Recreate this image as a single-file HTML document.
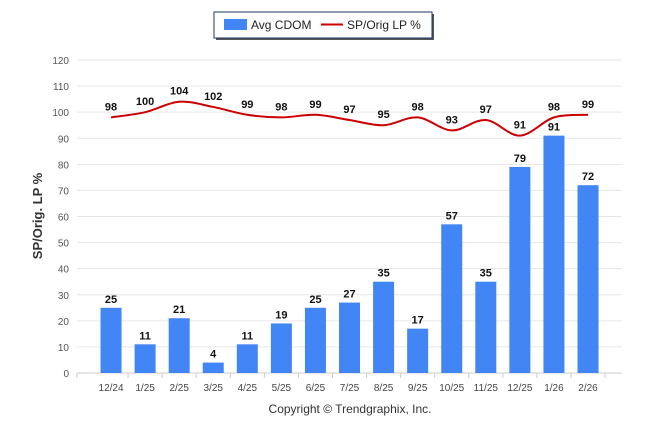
<!DOCTYPE html>
<html><head><meta charset="utf-8"><style>
body{margin:0;background:#fff;font-family:"Liberation Sans",Arial,sans-serif}
svg{display:block}
</style></head><body>
<svg id="c" width="646" height="434" xmlns="http://www.w3.org/2000/svg">
<g>
<rect x="216" y="14" width="218" height="26" fill="#555"/>
<rect x="214" y="12" width="218" height="26" fill="#fff" stroke="#1f3766" stroke-width="1"/>
<rect x="224" y="19" width="23" height="11" fill="#4285f4"/>
<text x="251" y="29" font-size="12" fill="#222">Avg CDOM</text>
<line x1="321" y1="24.5" x2="343" y2="24.5" stroke="#cc0000" stroke-width="2"/>
<text x="347" y="29" font-size="12" fill="#222">SP/Orig LP %</text>
</g>
<text transform="translate(42,216) rotate(-90)" text-anchor="middle" font-size="13" font-weight="bold" fill="#333">SP/Orig. LP %</text>
<text x="350" y="413" text-anchor="middle" font-size="12" fill="#333">Copyright © Trendgraphix, Inc.</text>
<g id="grid"></g><g id="bars"></g><g id="line"></g><g id="labels"></g>
</svg>
<script>
const categories=["12/24","1/25","2/25","3/25","4/25","5/25","6/25","7/25","8/25","9/25","10/25","11/25","12/25","1/26","2/26"];
const cdom=[25,11,21,4,11,19,25,27,35,17,57,35,79,91,72];
const spPct=[98,100,104,102,99,98,99,97,95,98,93,97,91,98,99];
const yTicks=[0,10,20,30,40,50,60,70,80,90,100,110,120];
const NS="http://www.w3.org/2000/svg";
const y0=373,yTop=60,yMax=120,left=77,right=622,catStart=94,step=34.07,bw=21;
const y=v=>y0-(v/yMax)*(y0-yTop);
const x=i=>catStart+step*(i+0.5);
function mk(t,a,p){const e=document.createElementNS(NS,t);for(const k in a)e.setAttribute(k,a[k]);p.appendChild(e);return e;}
const G=document.getElementById('grid'),B=document.getElementById('bars'),L=document.getElementById('line'),T=document.getElementById('labels');
yTicks.forEach(v=>{
 const g=mk('line',{x1:left,x2:right,y1:y(v),y2:y(v),stroke:v===0?'#ccc':'#e6e6e6','stroke-width':1},G);
 
 
 const t=mk('text',{x:69,y:y(v)+4,'text-anchor':'end','font-size':10,fill:'#555'},G);
 t.textContent=v;
 
 
});
for(let i=0;i<=categories.length;i++){
 const tk=mk('line',{x1:i===0?left:catStart+step*i,x2:i===0?left:catStart+step*i,y1:y0,y2:y0+5,stroke:'#ccc'},G);
 
 
}
categories.forEach((c,i)=>{
 const t=mk('text',{x:x(i),y:391,'text-anchor':'middle','font-size':10,fill:'#444'},G);
 t.textContent=c;
 
 
 const r=mk('rect',{x:x(i)-bw/2,y:y(cdom[i]),width:bw,height:y0-y(cdom[i]),fill:'#4285f4'},B);
 
 
 const bl=mk('text',{x:x(i),y:y(cdom[i])-5,'text-anchor':'middle','font-size':11,'font-weight':'bold',fill:'#111'},T);
 bl.textContent=cdom[i];
 
 
 const pl=mk('text',{x:x(i),y:y(spPct[i])-7,'text-anchor':'middle','font-size':11,'font-weight':'bold',fill:'#111'},T);
 pl.textContent=spPct[i];
 
 
});
const pts=spPct.map((v,i)=>[x(i),y(v)]);
let d='M'+pts[0][0]+','+pts[0][1];
for(let i=0;i<pts.length-1;i++){
 const p0=pts[i-1]||pts[i],p1=pts[i],p2=pts[i+1],p3=pts[i+2]||p2,k=1/6;
 d+=' C'+(p1[0]+(p2[0]-p0[0])*k)+','+(p1[1]+(p2[1]-p0[1])*k)+' '+(p2[0]-(p3[0]-p1[0])*k)+','+(p2[1]-(p3[1]-p1[1])*k)+' '+p2[0]+','+p2[1];
}
const ln=mk('path',{d:d,fill:'none',stroke:'#cc0000','stroke-width':2},L);


</script>
</body></html>
